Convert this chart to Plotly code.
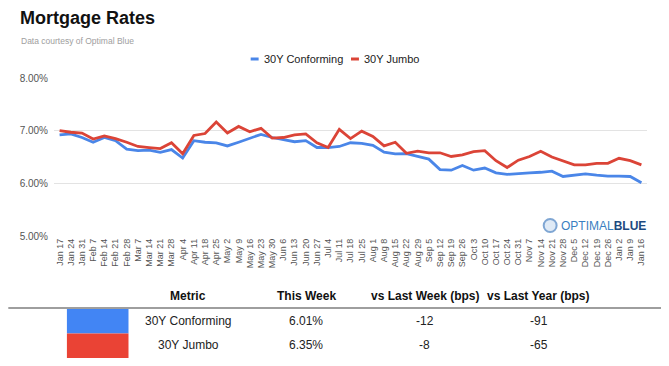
import plotly.graph_objects as go

weeks = ["Jan 17", "Jan 24", "Jan 31", "Feb 7", "Feb 14", "Feb 21", "Feb 28", "Mar 7", "Mar 14",
         "Mar 21", "Mar 28", "Apr 4", "Apr 11", "Apr 18", "Apr 25", "May 2", "May 9", "May 16",
         "May 23", "May 30", "Jun 6", "Jun 13", "Jun 20", "Jun 27", "Jul 4", "Jul 11", "Jul 18",
         "Jul 25", "Aug 1", "Aug 8", "Aug 15", "Aug 22", "Aug 29", "Sep 5", "Sep 12", "Sep 19",
         "Sep 26", "Oct 3", "Oct 10", "Oct 17", "Oct 24", "Oct 31", "Nov 7", "Nov 14", "Nov 21",
         "Nov 28", "Dec 5", "Dec 12", "Dec 19", "Dec 26", "Jan 2", "Jan 9", "Jan 16"]

conforming = [6.92, 6.94, 6.87, 6.78, 6.87, 6.81, 6.65, 6.62, 6.63, 6.59, 6.64, 6.48, 6.81, 6.78,
              6.77, 6.71, 6.78, 6.86, 6.93, 6.87, 6.83, 6.79, 6.81, 6.68, 6.68, 6.70, 6.77, 6.76,
              6.72, 6.59, 6.56, 6.565, 6.51, 6.46, 6.26, 6.25, 6.34, 6.25, 6.29, 6.20, 6.17, 6.19,
              6.20, 6.21, 6.23, 6.13, 6.16, 6.18, 6.155, 6.135, 6.135, 6.13, 6.01]

jumbo = [7.00, 6.97, 6.955, 6.84, 6.90, 6.85, 6.78, 6.70, 6.68, 6.66, 6.77, 6.56, 6.91, 6.945,
         7.165, 6.955, 7.08, 6.98, 7.045, 6.86, 6.87, 6.92, 6.94, 6.77, 6.68, 7.025, 6.85, 6.99,
         6.89, 6.71, 6.78, 6.57, 6.61, 6.58, 6.58, 6.51, 6.54, 6.60, 6.62, 6.43, 6.30, 6.44,
         6.51, 6.61, 6.50, 6.42, 6.35, 6.35, 6.38, 6.38, 6.475, 6.43, 6.35]

y_ticks = [5, 6, 7, 8]
y_tick_labels = ["5.00%", "6.00%", "7.00%", "8.00%"]

series_names = ["30Y Conforming", "30Y Jumbo"]
line_colors = ["#4a86e8", "#db4437"]
swatch_colors = ["#4285f4", "#ea4335"]

table_header = ["Metric", "This Week", "vs Last Week (bps)", "vs Last Year (bps)"]
this_week = ["6.01%", "6.35%"]
vs_last_week = ["-12", "-8"]
vs_last_year = ["-91", "-65"]

FONT = "Arial, Liberation Sans, sans-serif"
OFF = 8  # page body margin in the browser
W, H = 669 - OFF, 366 - OFF
L, T = 50 - OFF, 78 - OFF
PW, PH = 597, 158
R, B = W - L - PW, H - T - PH


def px(x):
    return (x - OFF - L) / PW


def py(y):
    return (T + PH - (y - OFF)) / PH


fig = go.Figure()
xs = list(range(len(weeks)))
for name, vals, col in zip(series_names, [conforming, jumbo], line_colors):
    fig.add_trace(go.Scatter(x=xs, y=vals, mode="lines", name=name,
                             line=dict(color=col, width=2.8), showlegend=False,
                             hoverinfo="skip"))

fig.update_layout(
    width=W, height=H, margin=dict(l=L, r=R, t=T, b=B),
    paper_bgcolor="white", plot_bgcolor="white",
    font=dict(family=FONT, color="#444"),
    xaxis=dict(range=[-0.5, len(weeks) - 0.5], tickmode="array", tickvals=xs, ticktext=weeks,
               tickangle=-90, tickfont=dict(size=9, color="#555"), showgrid=False,
               zeroline=False, showline=False, ticks=""),
    yaxis=dict(range=[5, 8], tickmode="array", tickvals=y_ticks, ticktext=y_tick_labels,
               tickfont=dict(size=10, color="#555"), showgrid=True, gridcolor="#e3e3e3",
               gridwidth=1, zeroline=False, showline=False, ticks="", ticklabelstandoff=5),
)

ann = []
shapes = []
# title & subtitle
ann.append(dict(text="<b>Mortgage Rates</b>", x=px(14), y=py(18), xref="paper", yref="paper",
                xanchor="left", yanchor="middle", showarrow=False,
                font=dict(size=18, color="#111", family=FONT)))
ann.append(dict(text="Data courtesy of Optimal Blue", x=px(15), y=py(41), xref="paper",
                yref="paper", xanchor="left", yanchor="middle", showarrow=False,
                font=dict(size=8.5, color="#9e9e9e", family=FONT)))
# legend
leg_x = [248, 349]
for name, col, lx in zip(series_names, line_colors, leg_x):
    shapes.append(dict(type="line", xref="paper", yref="paper", x0=px(lx), x1=px(lx + 8),
                       y0=py(59), y1=py(59), line=dict(color=col, width=3)))
    ann.append(dict(text=name, x=px(lx + 11), y=py(59), xref="paper", yref="paper",
                    xanchor="left", yanchor="middle", showarrow=False,
                    font=dict(size=11, color="#222", family=FONT)))
# logo
shapes.append(dict(type="circle", xref="paper", yref="paper", x0=px(543), x1=px(556),
                   y0=py(219), y1=py(232), line=dict(color="#7fa6d3", width=2),
                   fillcolor="#dfeaf6"))
ann.append(dict(text="<span style='color:#3a7fc1'>OPTIMAL</span><b><span style='color:#1d4a80'>BLUE</span></b>",
                x=px(558), y=py(226), xref="paper", yref="paper", xanchor="left",
                yanchor="middle", showarrow=False, font=dict(size=12, family=FONT)))

# table
col_x = [185, 304, 423, 538]
for hx, htxt in zip(col_x, table_header):
    ann.append(dict(text="<b>" + htxt + "</b>", x=px(hx), y=py(296), xref="paper", yref="paper",
                    xanchor="center", yanchor="middle", showarrow=False,
                    font=dict(size=12, color="#111", family=FONT)))
shapes.append(dict(type="line", xref="paper", yref="paper", x0=px(4), x1=px(664),
                   y0=py(308), y1=py(308), line=dict(color="#9e9e9e", width=2)))
row_y = [321, 345]
for i in range(2):
    shapes.append(dict(type="rect", xref="paper", yref="paper", x0=px(63), x1=px(125),
                       y0=py(309 + 24.5 * i), y1=py(333.5 + 24.5 * i), line=dict(width=0),
                       fillcolor=swatch_colors[i]))
    row = [series_names[i], this_week[i], vs_last_week[i], vs_last_year[i]]
    for cx, txt in zip(col_x, row):
        ann.append(dict(text=txt, x=px(cx), y=py(row_y[i]), xref="paper", yref="paper",
                        xanchor="center", yanchor="middle", showarrow=False,
                        font=dict(size=12, color="#222", family=FONT)))

fig.update_layout(annotations=ann, shapes=shapes)
fig.write_html("out.html")
